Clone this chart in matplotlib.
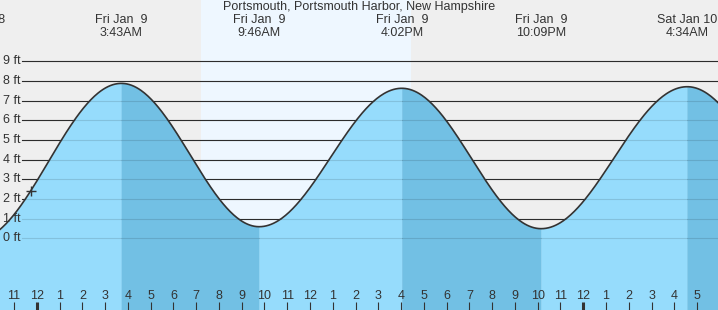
import numpy as np
import matplotlib
matplotlib.use("Agg")
import matplotlib.pyplot as plt
from matplotlib.transforms import blended_transform_factory

plt.rcParams['font.family'] = ['Liberation Sans', 'DejaVu Sans']

# ---- data ----
title = "Portsmouth, Portsmouth Harbor, New Hampshire"
# tide extremes: hours since midnight Fri Jan 9
ext_times = [-2.70, 3.717, 9.767, 16.033, 22.15, 28.567, 34.80]
ext_heights = [-0.10, 7.88, 0.59, 7.63, 0.49, 7.71, 0.45]
ext_days = ["Thu Jan  8", "Fri Jan  9", "Fri Jan  9", "Fri Jan  9",
            "Fri Jan  9", "Sat Jan 10", "Sat Jan 10"]
ext_clock = ["9:18PM", "3:43AM", "9:46AM", "4:02PM", "10:09PM", "4:34AM", "10:48AM"]
sunrise, sunset = 7.21, 16.45
now_time = -0.27
ft_levels = list(range(0, 10))
hour_ticks = list(range(-1, 30))

# ---- styling ----
NIGHT = '#efefef'
DAY = '#eef7ff'
RISE = '#96dcfc'
FALL = '#72c0e4'
INK = '#333333'
W, H = 718, 310
PX_HR = 22.77
X0 = -1.615
PX_FT = 19.66
Y0PX = 238.3

fig = plt.figure(figsize=(W / 100, H / 100), dpi=100, facecolor=NIGHT)
ax = fig.add_axes([0, 0, 1, 1])
ax.set_xlim(X0, X0 + W / PX_HR)
ax.set_ylim((Y0PX - H) / PX_FT, Y0PX / PX_FT)
ax.axis('off')
ybot = (Y0PX - H) / PX_FT

ax.axvspan(sunrise, sunset, color=DAY, zorder=0, lw=0)

xfrac_start = 22 / W
for lv in ft_levels:
    ax.axhline(lv, xmin=xfrac_start, xmax=1, color=INK, lw=0.8, zorder=1)

# tide curve: cosine smoothing between successive extremes
all_t, all_h = [], []
for i in range(len(ext_times) - 1):
    t0, t1 = ext_times[i], ext_times[i + 1]
    h0, h1 = ext_heights[i], ext_heights[i + 1]
    t = np.linspace(t0, t1, 120)
    h = h0 + (h1 - h0) * (1 - np.cos(np.pi * (t - t0) / (t1 - t0))) / 2
    col = RISE if h1 > h0 else FALL
    ax.fill_between(t, h, ybot, color=col, lw=0.3, edgecolor=col, zorder=2)
    all_t.append(t)
    all_h.append(h)
all_t = np.concatenate(all_t)
all_h = np.concatenate(all_h)

# faint grid lines seen through the water
for lv in ft_levels:
    ax.axhline(lv, xmin=xfrac_start, xmax=1, color='black', alpha=0.12, lw=0.8, zorder=3)

ax.plot(all_t, all_h, color=INK, lw=1.2, zorder=4, solid_capstyle='round')

now_h = np.interp(now_time, all_t, all_h)
ax.plot([now_time], [now_h], marker='+', ms=7, mew=1.0, color=INK, zorder=5, ls='none')

# y labels
tr_y = blended_transform_factory(ax.transAxes, ax.transData)
for lv in ft_levels:
    ax.text(20.5 / W, lv, f"{lv} ft", transform=tr_y, ha='right', va='center',
            fontsize=9, color=INK, zorder=6)

# extreme labels
tr_x = blended_transform_factory(ax.transData, ax.transAxes)
for t, d, c in zip(ext_times, ext_days, ext_clock):
    ax.text(t, 1 - 20 / H, d, transform=tr_x, ha='center', va='center', fontsize=9, color=INK, zorder=6)
    ax.text(t, 1 - 32.5 / H, c, transform=tr_x, ha='center', va='center', fontsize=9, color=INK, zorder=6)

fig.text(0.5, 1 - 7 / H, title, ha='center', va='center', fontsize=9, color=INK)

# hour ticks and labels
for hr in hour_ticks:
    lab = hr % 12
    lab = 12 if lab == 0 else lab
    ax.text(hr, 14 / H, str(lab), transform=tr_x, ha='center', va='center', fontsize=9, color=INK, zorder=6)
    ax.vlines(hr, 0, 8 / H, transform=tr_x, color=INK, lw=2.2 if hr % 24 == 0 else 0.8, zorder=6)

fig.savefig("out.png", dpi=100, facecolor=NIGHT)
